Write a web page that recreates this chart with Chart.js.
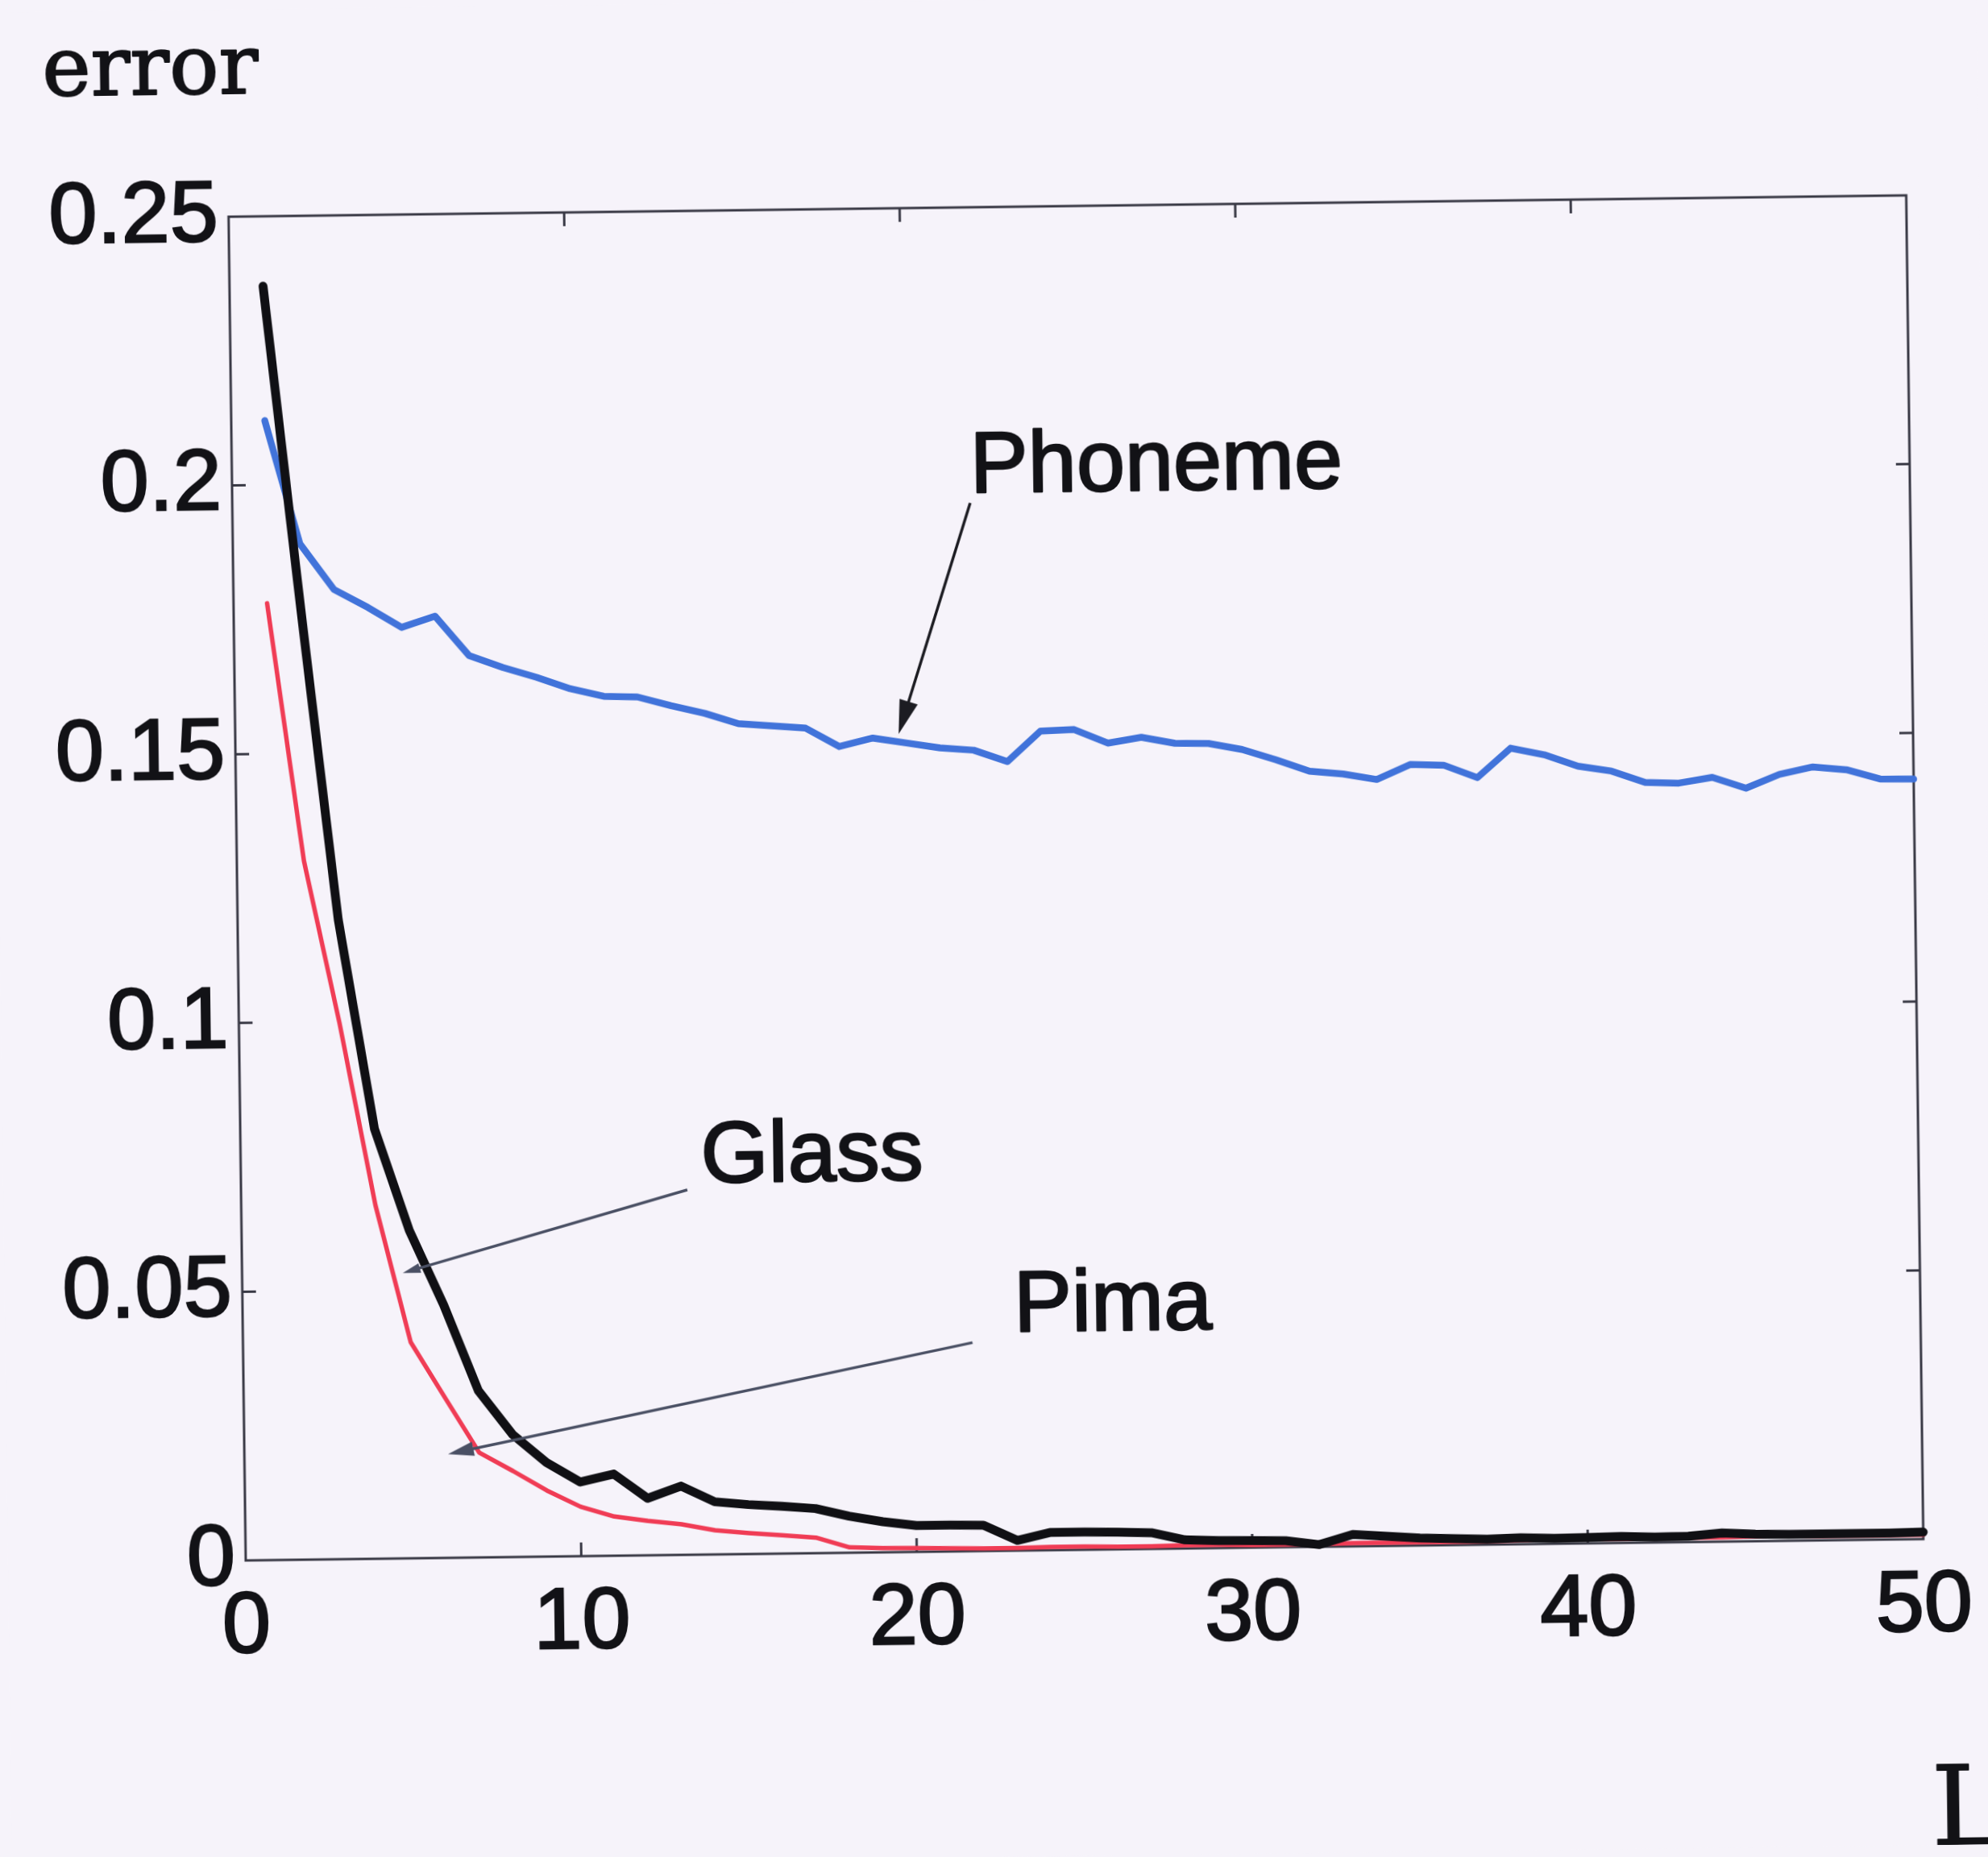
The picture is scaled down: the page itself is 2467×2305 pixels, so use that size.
<!DOCTYPE html>
<html>
<head>
<meta charset="utf-8">
<script src="https://cdn.jsdelivr.net/npm/chart.js@4.4.1/dist/chart.umd.min.js"></script>
<style>
  html, body { margin: 0; padding: 0; background: #f6f3fa; overflow: hidden; }
  #wrap { width: 2467px; height: 2305px; }
  #c { display: block; transform: rotate(-0.73deg); transform-origin: 50% 50%; }
</style>
</head>
<body>
<div id="wrap"><canvas id="c" width="2467" height="2305" style="width:2467px;height:2305px"></canvas></div>
<script>
// ---- data ----
const Ls = [1,2,3,4,5,6,7,8,9,10,11,12,13,14,15,16,17,18,19,20,21,22,23,24,25,26,27,28,29,30,31,32,33,34,35,36,37,38,39,40,41,42,43,44,45,46,47,48,49,50];

const phoneme = [0.212,0.189,0.1804,0.177,0.1732,0.1752,0.1678,0.1655,0.1636,0.1614,
                 0.1599,0.1597,0.158,0.1565,0.1545,0.154,0.1535,0.150,0.1515,0.1505,
                 0.1495,0.149,0.1468,0.1524,0.1526,0.150,0.151,0.1498,0.1497,0.1485,
                 0.1465,0.1443,0.1437,0.1426,0.1453,0.1451,0.1427,0.1481,0.1468,0.1446,
                 0.1436,0.1414,0.1412,0.1422,0.1401,0.1426,0.1439,0.1433,0.1415,0.1414];

const glass = [0.237,0.177,0.119,0.080,0.061,0.047,0.031,0.0228,0.0175,0.0138,
               0.0152,0.0106,0.0128,0.0098,0.0092,0.0088,0.0083,0.0068,0.0057,0.0049,
               0.0049,0.0048,0.0019,0.0033,0.0033,0.0032,0.0030,0.0016,0.0014,0.0013,
               0.0012,0.0004,0.0022,0.0018,0.0014,0.0012,0.0010,0.0012,0.0010,0.0011,
               0.0012,0.0010,0.0011,0.0016,0.0013,0.0012,0.0012,0.0012,0.0012,0.0013];

const pima = [0.178,0.130,0.0997,0.0658,0.0402,0.0298,0.0195,0.0160,0.0123,0.0092,
              0.0073,0.0064,0.0057,0.0045,0.0039,0.0034,0.0029,0.0010,0.0008,0.0007,
              0.0006,0.0005,0.0005,0.0006,0.0006,0.0005,0.0005,0.0006,0.0006,0.0005,
              0.0005,0.0005,0.0006,0.0006,0.0006,0.0006,0.0006,0.0007,0.0007,0.0007,
              0.0007,0.0007,0.0008,0.0008,0.0009,0.0009,0.0008,0.0008,0.0008,0.0008];

const xTickValues = [0,10,20,30,40,50];
const xTickLabels = ['0','10','20','30','40','50'];
const yTickValues = [0,0.05,0.1,0.15,0.2,0.25];
const yTickLabels = ['0','0.05','0.1','0.15','0.2','0.25'];

const seriesNames = ['Glass','Phoneme','Pima'];
const axisTitleY = 'error';
const axisTitleX = 'L';

// ---- styling / annotation placement (in data coordinates) ----
const SANS = '"Liberation Sans", Arial, Helvetica, sans-serif';
const SERIF = '"DejaVu Serif", "Liberation Serif", serif';
const TEXT_COLOR = '#121216';
const FRAME_COLOR = '#383844';

const notes = [
  { text: seriesNames[1], x: 22.0,  y: 0.197,   font: '108px ' + SANS,  stroke: 2.5 },
  { text: seriesNames[0], x: 13.71, y: 0.0692,  font: '108px ' + SANS,  stroke: 2.5 },
  { text: seriesNames[2], x: 22.98, y: 0.0407,  font: '108px ' + SANS,  stroke: 2.5 },
  { text: axisTitleY,     x: -5.5,  y: 0.2730,  font: '102px ' + SERIF, stroke: 2 },
  { text: axisTitleX,     x: 50.14, y: -0.0570, font: '137px ' + SERIF, stroke: 1.5 }
];
const arrows = [
  { from: [21.99, 0.1950], to: [19.77, 0.1522], color: '#1c1c22', head: 42 },
  { from: [13.30, 0.0679], to: [4.79, 0.0531],  color: '#4a5064', head: 22 },
  { from: [21.74, 0.0388], to: [6.07, 0.0193],  color: '#4a5064', head: 32 }
];

const pts = arr => Ls.map((l, i) => ({ x: l, y: arr[i] }));

const framePlugin = {
  id: 'frameAndNotes',
  beforeDatasetsDraw(chart) {
    const { ctx, chartArea: a, scales: { x, y } } = chart;
    ctx.save();
    ctx.strokeStyle = FRAME_COLOR;
    ctx.lineWidth = 3;
    ctx.strokeRect(a.left, a.top, a.right - a.left, a.bottom - a.top);
    const T = 17;
    ctx.beginPath();
    x.ticks.forEach(t => {
      if (t.value > x.min && t.value < x.max) {
        const p = x.getPixelForValue(t.value);
        ctx.moveTo(p, a.bottom); ctx.lineTo(p, a.bottom - T);
        ctx.moveTo(p, a.top);    ctx.lineTo(p, a.top + T);
      }
    });
    y.ticks.forEach(t => {
      if (t.value > y.min && t.value < y.max) {
        const p = y.getPixelForValue(t.value);
        ctx.moveTo(a.left, p);  ctx.lineTo(a.left + T, p);
        ctx.moveTo(a.right, p); ctx.lineTo(a.right - T, p);
      }
    });
    ctx.stroke();
    ctx.restore();
  },
  afterDatasetsDraw(chart) {
    const { ctx, scales: { x, y } } = chart;
    ctx.save();
    arrows.forEach(ar => {
      const x1 = x.getPixelForValue(ar.from[0]), y1 = y.getPixelForValue(ar.from[1]);
      const x2 = x.getPixelForValue(ar.to[0]),   y2 = y.getPixelForValue(ar.to[1]);
      const ang = Math.atan2(y2 - y1, x2 - x1);
      ctx.strokeStyle = ar.color;
      ctx.fillStyle = ar.color;
      ctx.lineWidth = 3.5;
      ctx.beginPath();
      ctx.moveTo(x1, y1);
      ctx.lineTo(x2 - Math.cos(ang) * ar.head * 0.6, y2 - Math.sin(ang) * ar.head * 0.6);
      ctx.stroke();
      const h = ar.head, w = ar.head * 0.28;
      const bx = x2 - Math.cos(ang) * h, by = y2 - Math.sin(ang) * h;
      ctx.beginPath();
      ctx.moveTo(x2, y2);
      ctx.lineTo(bx + Math.sin(ang) * w, by - Math.cos(ang) * w);
      ctx.lineTo(bx - Math.sin(ang) * w, by + Math.cos(ang) * w);
      ctx.closePath();
      ctx.fill();
    });
    ctx.fillStyle = TEXT_COLOR;
    ctx.strokeStyle = TEXT_COLOR;
    ctx.lineJoin = 'round';
    ctx.textAlign = 'left';
    ctx.textBaseline = 'alphabetic';
    notes.forEach(n => {
      ctx.font = n.font;
      const px = x.getPixelForValue(n.x), py = y.getPixelForValue(n.y);
      ctx.lineWidth = n.stroke;
      ctx.strokeText(n.text, px, py);
      ctx.fillText(n.text, px, py);
    });
    ctx.restore();
  }
};

const bgPlugin = {
  id: 'bg',
  beforeDraw(chart) {
    const { ctx, width, height } = chart;
    ctx.save();
    ctx.fillStyle = '#f6f3fa';
    ctx.fillRect(0, 0, width, height);
    ctx.restore();
  }
};

new Chart(document.getElementById('c'), {
  type: 'line',
  data: {
    datasets: [
      { label: seriesNames[0], data: pts(glass),   borderColor: '#101014', borderWidth: 11,  order: 0 },
      { label: seriesNames[1], data: pts(phoneme), borderColor: '#4173da', borderWidth: 8.5, order: 1 },
      { label: seriesNames[2], data: pts(pima),    borderColor: '#f03c55', borderWidth: 5.5, order: 2 }
    ]
  },
  options: {
    responsive: false,
    animation: false,
    devicePixelRatio: 1,
    layout: { padding: { left: 0, top: 257, right: 90, bottom: 230 } },
    datasets: {
      line: { pointRadius: 0, tension: 0, fill: false, clip: false,
              borderJoinStyle: 'round', borderCapStyle: 'round' }
    },
    plugins: { legend: { display: false }, tooltip: { enabled: false }, title: { display: false } },
    scales: {
      x: {
        type: 'linear', min: 0, max: 50,
        afterBuildTicks: s => { s.ticks = xTickValues.map(v => ({ value: v })); },
        afterFit: s => { s.height = 150; },
        grid: { display: false, drawTicks: false },
        border: { display: false },
        ticks: {
          autoSkip: false, maxRotation: 0, padding: 19, color: TEXT_COLOR,
          textStrokeColor: TEXT_COLOR, textStrokeWidth: 2.5,
          font: { family: SANS, size: 108 },
          callback: (v, i) => xTickLabels[i]
        }
      },
      y: {
        type: 'linear', min: 0, max: 0.25,
        afterBuildTicks: s => { s.ticks = yTickValues.map(v => ({ value: v })); },
        afterFit: s => { s.width = 295; },
        grid: { display: false, drawTicks: false },
        border: { display: false },
        ticks: {
          autoSkip: false, padding: 13, color: TEXT_COLOR,
          textStrokeColor: TEXT_COLOR, textStrokeWidth: 2.5,
          font: { family: SANS, size: 108 },
          callback: (v, i) => yTickLabels[i]
        }
      }
    }
  },
  plugins: [bgPlugin, framePlugin]
});
</script>
</body>
</html>
